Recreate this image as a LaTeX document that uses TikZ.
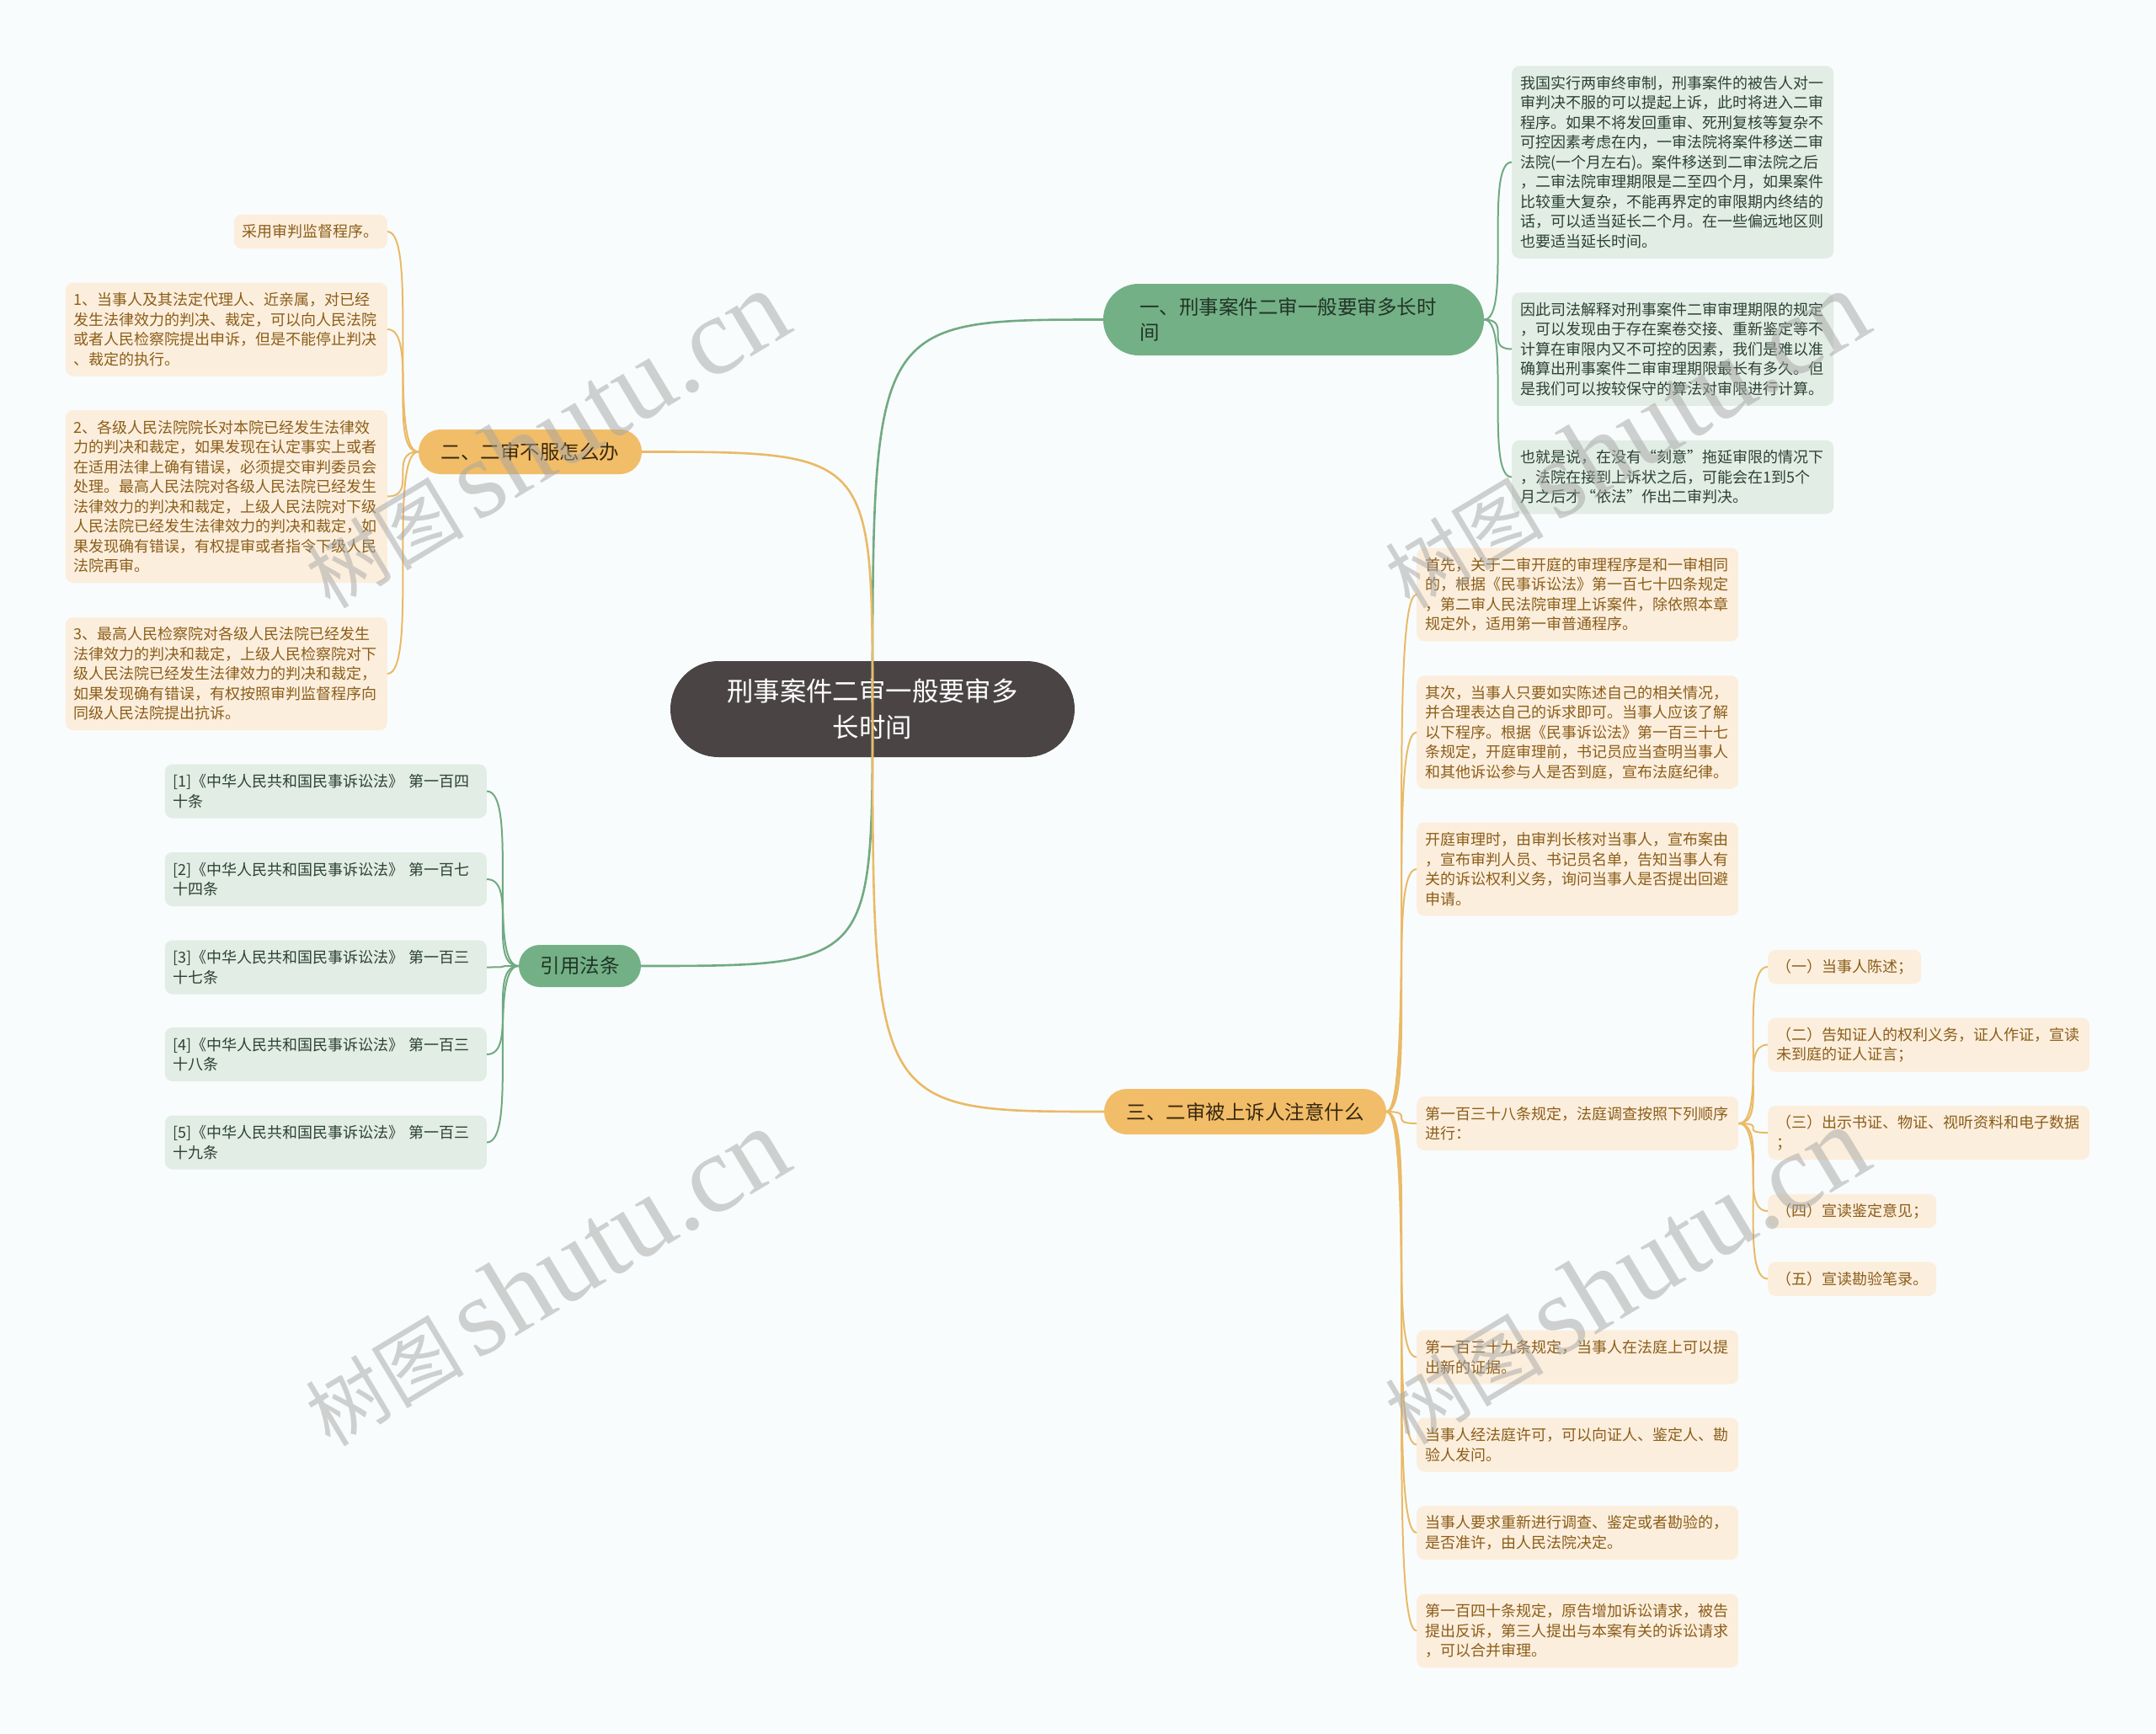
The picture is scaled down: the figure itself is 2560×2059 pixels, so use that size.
\documentclass[tikz,border=0pt]{standalone}
\usepackage{fontspec}
\setmainfont{Noto Sans CJK SC}
\newfontfamily\wmlatin{Liberation Serif}
\usepackage{tikz}

\definecolor{bgcol}{RGB}{249,252,253}
\definecolor{rootbg}{RGB}{74,68,69}
\definecolor{gbranchbg}{RGB}{115,176,134}
\definecolor{obranchbg}{RGB}{242,189,104}
\definecolor{gbranchtx}{RGB}{33,52,38}
\definecolor{obranchtx}{RGB}{55,40,15}
\definecolor{gleafbg}{RGB}{226,237,229}
\definecolor{oleafbg}{RGB}{252,238,221}
\definecolor{gleaftx}{RGB}{44,66,51}
\definecolor{oleaftx}{RGB}{139,94,25}
\definecolor{gline}{RGB}{112,170,130}
\definecolor{oline}{RGB}{234,186,102}
\definecolor{wmgray}{RGB}{165,165,165}

\begin{document}
\begin{tikzpicture}[x=1pt,y=-1pt,
  rootbox/.style={rectangle,rounded corners=57pt,fill=rootbg,text=white,align=center,
    minimum width=480pt,minimum height=114pt,font=\fontsize{31.4pt}{43pt}\selectfont},
  branch/.style={rectangle,inner sep=0pt,font=\fontsize{23.5pt}{30pt}\selectfont},
  gbranch/.style={branch,fill=gbranchbg,text=gbranchtx},
  obranch/.style={branch,fill=obranchbg,text=obranchtx},
  leaf/.style={rectangle,rounded corners=9pt,inner xsep=10pt,inner ysep=0pt,align=left,
    minimum height=40.5pt,font=\fontsize{18pt}{23.5pt}\selectfont},
  wbox/.style={text width=362pt},
  gleaf/.style={leaf,fill=gleafbg,text=gleaftx},
  oleaf/.style={leaf,fill=oleafbg,text=oleaftx},
  glink/.style={draw=gline,line width=2pt},
  olink/.style={draw=oline,line width=2pt},
  gmain/.style={draw=gline,line width=2.6pt},
  omain/.style={draw=oline,line width=2.6pt},
  wmark/.style={rotate=31,text=wmgray,opacity=0.5,inner sep=0pt}]

  \fill[bgcol] (0,0) rectangle (2560,2059);
  \useasboundingbox (0,0) rectangle (2560,2059);

  \node[rootbox] (root) at (1036,842) {刑事案件二审一般要审多\\长时间};

  \node[gbranch,rounded corners=42pt,minimum width=452pt,minimum height=85pt,
    inner xsep=43pt,text width=366pt,align=left] (b1) at (1536,379.5)
    {一、刑事案件二审一般要审多长时\\间};
  \node[obranch,rounded corners=26pt,minimum width=265pt,minimum height=53pt] (b2)
    at (629.5,536.5) {二、二审不服怎么办};
  \node[gbranch,rounded corners=25pt,minimum width=145pt,minimum height=50pt] (b3)
    at (688.5,1147) {引用法条};
  \node[obranch,rounded corners=27pt,minimum width=335pt,minimum height=54pt] (b4)
    at (1478.5,1320) {三、二审被上诉人注意什么};

  \node[gleaf,wbox,anchor=west,minimum height=228.5pt] (l1) at (1795,192.5)
    {我国实行两审终审制，刑事案件的被告人对一\\审判决不服的可以提起上诉，此时将进入二审\\程序。如果不将发回重审、死刑复核等复杂不\\可控因素考虑在内，一审法院将案件移送二审\\法院(一个月左右)。案件移送到二审法院之后\\，二审法院审理期限是二至四个月，如果案件\\比较重大复杂，不能再界定的审限期内终结的\\话，可以适当延长二个月。在一些偏远地区则\\也要适当延长时间。};
  \node[gleaf,wbox,anchor=west,minimum height=134.5pt] (l2) at (1795,414.5)
    {因此司法解释对刑事案件二审审理期限的规定\\，可以发现由于存在案卷交接、重新鉴定等不\\计算在审限内又不可控的因素，我们是难以准\\确算出刑事案件二审审理期限最长有多久。但\\是我们可以按较保守的算法对审限进行计算。};
  \node[gleaf,wbox,anchor=west,minimum height=87.5pt] (l3) at (1795,566.5)
    {也就是说，在没有“刻意”拖延审限的情况下\\，法院在接到上诉状之后，可能会在1到5个\\月之后才“依法”作出二审判决。};

  \node[oleaf,anchor=east] (o1) at (460,275) {采用审判监督程序。};
  \node[oleaf,wbox,anchor=east,minimum height=111pt] (o2) at (460,391)
    {1、当事人及其法定代理人、近亲属，对已经\\发生法律效力的判决、裁定，可以向人民法院\\或者人民检察院提出申诉，但是不能停止判决\\、裁定的执行。};
  \node[oleaf,wbox,anchor=east,minimum height=205pt] (o3) at (460,589.5)
    {2、各级人民法院院长对本院已经发生法律效\\力的判决和裁定，如果发现在认定事实上或者\\在适用法律上确有错误，必须提交审判委员会\\处理。最高人民法院对各级人民法院已经发生\\法律效力的判决和裁定，上级人民法院对下级\\人民法院已经发生法律效力的判决和裁定，如\\果发现确有错误，有权提审或者指令下级人民\\法院再审。};
  \node[oleaf,wbox,anchor=east,minimum height=134.5pt] (o4) at (460,800)
    {3、最高人民检察院对各级人民法院已经发生\\法律效力的判决和裁定，上级人民检察院对下\\级人民法院已经发生法律效力的判决和裁定，\\如果发现确有错误，有权按照审判监督程序向\\同级人民法院提出抗诉。};

  \node[gleaf,wbox,anchor=east,minimum height=64pt] (g1) at (578,939.5)
    {[1]《中华人民共和国民事诉讼法》 第一百四\\十条};
  \node[gleaf,wbox,anchor=east,minimum height=64pt] (g2) at (578,1044)
    {[2]《中华人民共和国民事诉讼法》 第一百七\\十四条};
  \node[gleaf,wbox,anchor=east,minimum height=64pt] (g3) at (578,1148.5)
    {[3]《中华人民共和国民事诉讼法》 第一百三\\十七条};
  \node[gleaf,wbox,anchor=east,minimum height=64pt] (g4) at (578,1252)
    {[4]《中华人民共和国民事诉讼法》 第一百三\\十八条};
  \node[gleaf,wbox,anchor=east,minimum height=64pt] (g5) at (578,1356.5)
    {[5]《中华人民共和国民事诉讼法》 第一百三\\十九条};

  \node[oleaf,wbox,anchor=west,minimum height=111pt] (r1) at (1682,706)
    {首先，关于二审开庭的审理程序是和一审相同\\的，根据《民事诉讼法》第一百七十四条规定\\，第二审人民法院审理上诉案件，除依照本章\\规定外，适用第一审普通程序。};
  \node[oleaf,wbox,anchor=west,minimum height=134.5pt] (r2) at (1682,869.5)
    {其次，当事人只要如实陈述自己的相关情况，\\并合理表达自己的诉求即可。当事人应该了解\\以下程序。根据《民事诉讼法》第一百三十七\\条规定，开庭审理前，书记员应当查明当事人\\和其他诉讼参与人是否到庭，宣布法庭纪律。};
  \node[oleaf,wbox,anchor=west,minimum height=111pt] (r3) at (1682,1032)
    {开庭审理时，由审判长核对当事人，宣布案由\\，宣布审判人员、书记员名单，告知当事人有\\关的诉讼权利义务，询问当事人是否提出回避\\申请。};
  \node[oleaf,wbox,anchor=west,minimum height=64pt] (r4) at (1682,1334)
    {第一百三十八条规定，法庭调查按照下列顺序\\进行：};
  \node[oleaf,wbox,anchor=west,minimum height=64pt] (r5) at (1682,1611.5)
    {第一百三十九条规定，当事人在法庭上可以提\\出新的证据。};
  \node[oleaf,wbox,anchor=west,minimum height=64pt] (r6) at (1682,1715.5)
    {当事人经法庭许可，可以向证人、鉴定人、勘\\验人发问。};
  \node[oleaf,wbox,anchor=west,minimum height=64pt] (r7) at (1682,1820)
    {当事人要求重新进行调查、鉴定或者勘验的，\\是否准许，由人民法院决定。};
  \node[oleaf,wbox,anchor=west,minimum height=87.5pt] (r8) at (1682,1936.5)
    {第一百四十条规定，原告增加诉讼请求，被告\\提出反诉，第三人提出与本案有关的诉讼请求\\，可以合并审理。};

  \node[oleaf,anchor=west] (s1) at (2099,1148) {（一）当事人陈述；};
  \node[oleaf,wbox,anchor=west,minimum height=64pt] (s2) at (2099,1240.5)
    {（二）告知证人的权利义务，证人作证，宣读\\未到庭的证人证言；};
  \node[oleaf,wbox,anchor=west,minimum height=64pt] (s3) at (2099,1345)
    {（三）出示书证、物证、视听资料和电子数据\\；};
  \node[oleaf,anchor=west] (s4) at (2099,1438) {（四）宣读鉴定意见；};
  \node[oleaf,anchor=west] (s5) at (2099,1518.5) {（五）宣读勘验笔录。};

  \draw[gmain] (root.center) .. controls (root.center |- b1.west) .. (b1.west);
  \draw[gmain] (root.center) .. controls (root.center |- b3.east) .. (b3.east);
  \draw[omain] (root.center) .. controls (root.center |- b2.east) .. (b2.east);
  \draw[omain] (root.center) .. controls (root.center |- b4.west) .. (b4.west);

  \foreach \n in {l1,l2,l3}
    \draw[glink] (b1.east) .. controls +(33,0) and +(-33,0) .. (\n.west);
  \foreach \n in {o1,o2,o3,o4}
    \draw[olink] (b2.west) .. controls +(-37,0) and +(37,0) .. (\n.east);
  \foreach \n in {g1,g2,g3,g4,g5}
    \draw[glink] (b3.west) .. controls +(-38,0) and +(38,0) .. (\n.east);
  \foreach \n in {r1,r2,r3,r4,r5,r6,r7,r8}
    \draw[olink] (b4.east) .. controls +(36,0) and +(-36,0) .. (\n.west);
  \foreach \n in {s1,s2,s3,s4,s5}
    \draw[olink] (r4.east) .. controls +(36,0) and +(-36,0) .. (\n.west);

  \foreach \wx/\wy/\wn in {648/522/wma,1930/522/wmb,648/1517/wmc,1930/1515/wmd}
    \node[wmark] (\wn) at (\wx,\wy)
      {\fontsize{94pt}{94pt}\selectfont 树图\hspace{14pt}{\wmlatin\fontsize{132pt}{132pt}\selectfont shutu.cn}};
\end{tikzpicture}
\end{document}
